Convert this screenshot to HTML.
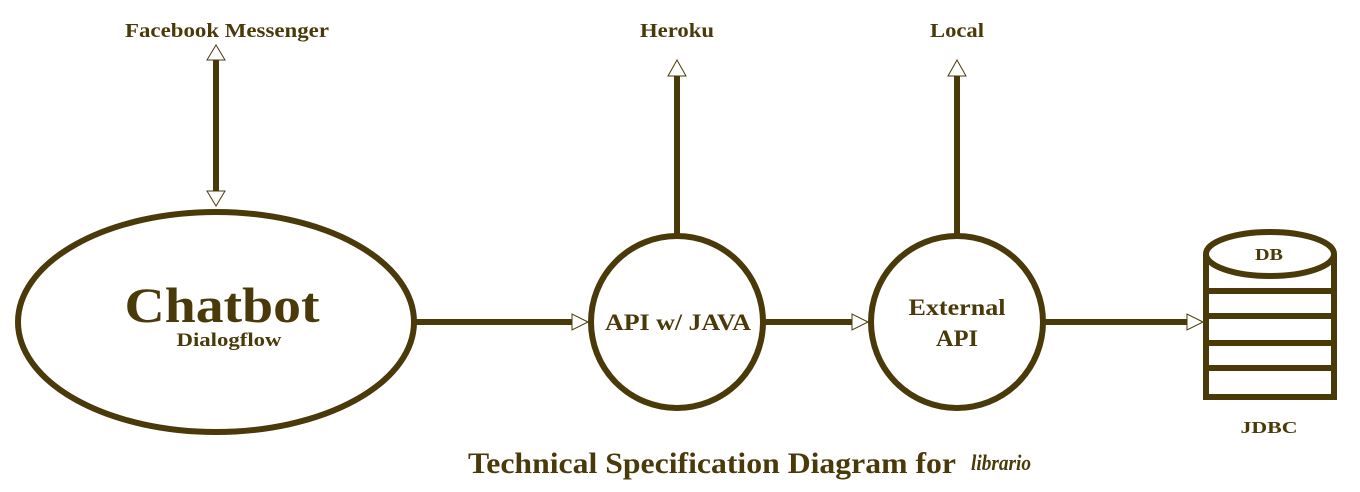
<!DOCTYPE html>
<html><head><meta charset="utf-8"><style>
html,body{margin:0;padding:0;background:#fff;}
svg{display:block;}
text{font-family:"Liberation Serif",serif;font-weight:bold;fill:#4a3a0a;text-anchor:middle;}
</style></head><body>
<svg width="1360" height="492" viewBox="0 0 1360 492" xmlns="http://www.w3.org/2000/svg">
<g stroke="#4a3a0a" stroke-width="6" fill="none">
<ellipse cx="216" cy="322" rx="198" ry="110"/>
<line x1="216" y1="60" x2="216" y2="191"/>
<line x1="413" y1="322" x2="573" y2="322"/>
<circle cx="677" cy="322" r="86"/>
<line x1="677" y1="76" x2="677" y2="236"/>
<line x1="763" y1="322" x2="853" y2="322"/>
<circle cx="957" cy="322" r="86"/>
<line x1="957" y1="76" x2="957" y2="236"/>
<line x1="1043" y1="322" x2="1188" y2="322"/>
<path d="M1206 254 V397 H1334 V254"/>
<ellipse cx="1270" cy="254" rx="64" ry="22" fill="#fff"/>
<line x1="1206" y1="291" x2="1334" y2="291"/>
<line x1="1206" y1="316" x2="1334" y2="316"/>
<line x1="1206" y1="343" x2="1334" y2="343"/>
<line x1="1206" y1="368" x2="1334" y2="368"/>
</g>
<g fill="#fff" stroke="#4a3a0a" stroke-width="1">
<polygon points="216,45 207,60 225,60"/>
<polygon points="216,206 207,191 225,191"/>
<polygon points="677,60 668,76 686,76"/>
<polygon points="957,60 948,76 966,76"/>
<polygon points="588,322 572,314 572,330"/>
<polygon points="868,322 852,314 852,330"/>
<polygon points="1203,322 1187,314 1187,330"/>
</g>
<g lengthAdjust="spacingAndGlyphs">
<text x="227" y="37" font-size="20" textLength="204" lengthAdjust="spacingAndGlyphs">Facebook Messenger</text>
<text x="677" y="37" font-size="20" textLength="74" lengthAdjust="spacingAndGlyphs">Heroku</text>
<text x="957" y="37" font-size="20" textLength="54" lengthAdjust="spacingAndGlyphs">Local</text>
<text x="222" y="322" font-size="50" textLength="195" lengthAdjust="spacingAndGlyphs">Chatbot</text>
<text x="229" y="346" font-size="19" textLength="105" lengthAdjust="spacingAndGlyphs">Dialogflow</text>
<text x="678" y="330" font-size="23" textLength="146" lengthAdjust="spacingAndGlyphs">API w/ JAVA</text>
<text x="957" y="315" font-size="23" textLength="97" lengthAdjust="spacingAndGlyphs">External</text>
<text x="957" y="346" font-size="23" textLength="42" lengthAdjust="spacingAndGlyphs">API</text>
<text x="1269" y="260" font-size="17" textLength="28" lengthAdjust="spacingAndGlyphs">DB</text>
<text x="1269" y="433" font-size="17" textLength="57" lengthAdjust="spacingAndGlyphs">JDBC</text>
<text x="712" y="473" font-size="30" textLength="488" lengthAdjust="spacingAndGlyphs">Technical Specification Diagram for</text>
<text x="1001" y="470" font-size="22" font-style="italic" font-weight="normal" textLength="60" lengthAdjust="spacingAndGlyphs" style="font-family:'Liberation Serif',serif">librario</text>
</g>
</svg>
</body></html>
